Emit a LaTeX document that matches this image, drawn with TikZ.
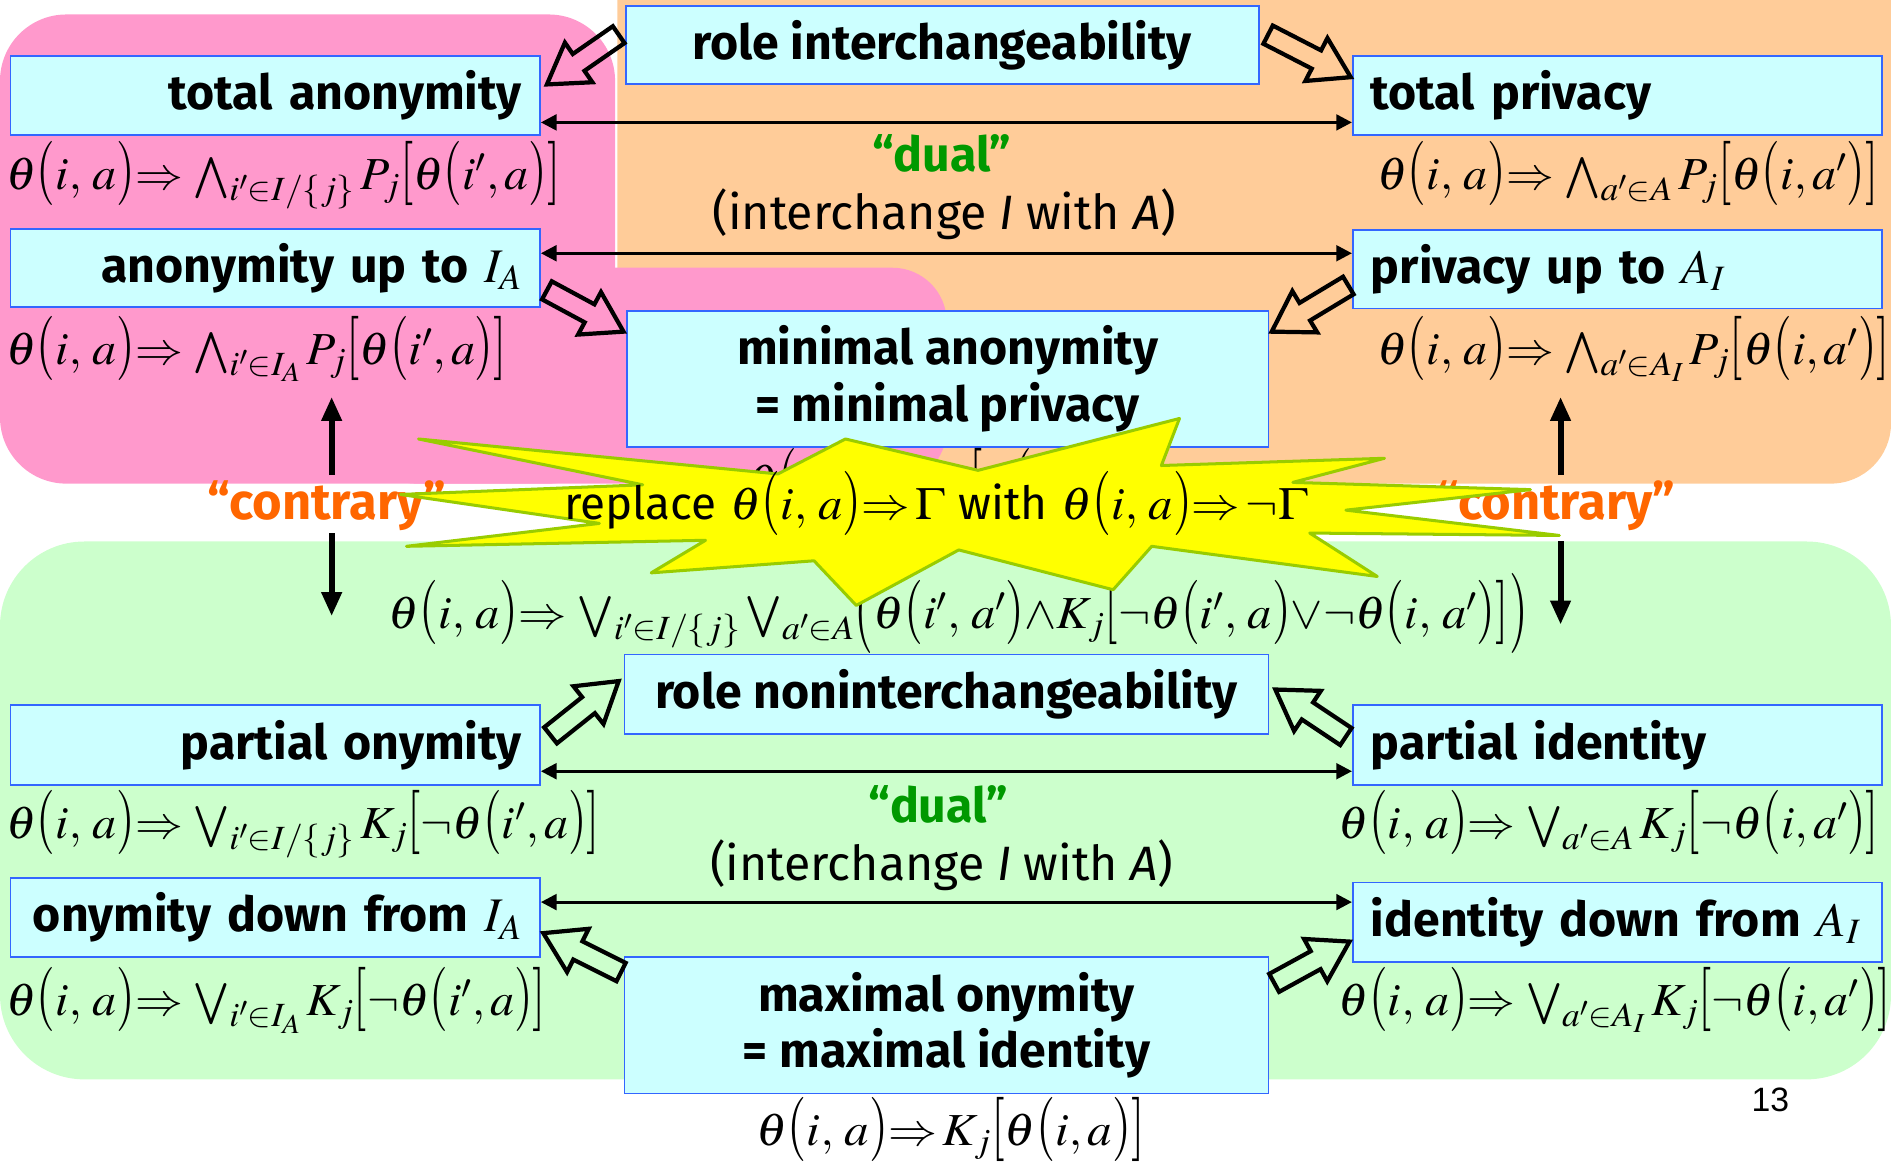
\documentclass[tikz,border=0pt]{standalone}
\usepackage{mathptmx}
\usepackage{graphicx}
\usepackage[no-math]{fontspec}
\usetikzlibrary{calc,arrows.meta}
\newfontfamily\cfont{Fira Sans}
\newfontfamily\numfont{Liberation Sans}
\definecolor{pinkbg}{HTML}{FF99CC}
\definecolor{orangebg}{HTML}{FFCC99}
\definecolor{greenbg}{HTML}{CCFFCC}
\definecolor{boxfill}{HTML}{CCFFFF}
\definecolor{boxline}{HTML}{3366FF}
\definecolor{dualgreen}{HTML}{009900}
\definecolor{contraorange}{HTML}{FF6600}
\definecolor{staryellow}{HTML}{FFFF00}
\definecolor{starline}{HTML}{99CC00}
\newcommand\LP{\mathopen{\scalebox{1}[1.4]{$($}}}
\newcommand\RP{\mathclose{\scalebox{1}[1.4]{$)$}}}
\newcommand\LB{\mathopen{\scalebox{1}[1.4]{$[$}}}
\newcommand\RB{\mathclose{\scalebox{1}[1.4]{$]$}}}
\newcommand\LLP{\mathopen{\raisebox{-0.12em}{\scalebox{1}[1.75]{$($}}}}
\newcommand\RRP{\mathclose{\raisebox{-0.12em}{\scalebox{1}[1.75]{$)$}}}}
\newcommand\thia{\theta\LP i,\,a\RP}
\newcommand\imp{{\Rightarrow}\,}
\newcommand\fml[2][1.045]{\scalebox{#1}[1]{$#2$}}
\newcommand\blockarrow[2]{%
  \coordinate (bA) at (#1);
  \coordinate (bB) at (#2);
  \coordinate (bP) at ($(bB)!32pt!(bA)$);
  \draw[blockarr] ($(bA)!8.5pt!90:(bB)$) -- ($(bP)!8.5pt!90:(bB)$) -- ($(bP)!20pt!90:(bB)$)
    -- (bB) -- ($(bP)!20pt!-90:(bB)$) -- ($(bP)!8.5pt!-90:(bB)$) -- ($(bA)!8.5pt!-90:(bB)$) -- cycle;
}
\tikzset{
  boxnode/.style={draw=boxline, fill=boxfill, line width=1.5pt, inner sep=0pt, anchor=north west,
    font=\cfont\bfseries\fontsize{40}{47}\selectfont},
  leftbox/.style={boxnode, minimum height=65pt, text width=409pt, inner xsep=15pt, align=right},
  rightbox/.style={boxnode, minimum height=65pt, text width=409pt, inner xsep=15pt, align=left},
  midbox/.style={boxnode, align=center},
  formula/.style={anchor=base west, inner sep=0pt, font=\fontsize{38}{46}\selectfont},
  duallab/.style={anchor=base, inner sep=0pt, text=dualgreen, font=\cfont\bfseries\fontsize{40}{48}\selectfont},
  swaplab/.style={anchor=base, inner sep=0pt, font=\cfont\fontsize{40}{48}\selectfont},
  contralab/.style={anchor=base, inner sep=0pt, text=contraorange, font=\cfont\bfseries\fontsize{42}{48}\selectfont},
  dblarr/.style={line width=2.5pt, {Triangle[width=13pt,length=13pt]}-{Triangle[width=13pt,length=13pt]}},
  varr/.style={line width=5pt, -{Triangle[width=16pt,length=20pt]}},
  blockarr/.style={draw=black, line width=3.5pt, line join=miter},
  starshape/.style={fill=staryellow, draw=starline, line width=2.5pt, line join=round}
}
\begin{document}
\begin{tikzpicture}[x=1pt,y=-1pt]
\useasboundingbox (0,0) rectangle (1568,968);
\clip (0,0) rectangle (1568,968);
% backgrounds
\fill[orangebg, rounded corners=50] (512,-80) rectangle (1568,401);
\fill[pinkbg, rounded corners=55] (0,12) rectangle (510,401);
\fill[pinkbg, rounded corners=45] (300,222) rectangle (785,401);
\fill[greenbg, rounded corners=70] (0,449) rectangle (1568,895);

% boxes
\node[midbox, minimum width=525pt, minimum height=65pt] (ri) at (518,4) {role interchangeability};
\node[leftbox] (ta) at (8,46) {total anonymity};
\node[rightbox] (tp) at (1121,46) {total privacy};
\node[leftbox] (au) at (8,189) {anonymity up to $I_A$};
\node[rightbox] (pu) at (1121,190) {privacy up to $A_I$};
\node[midbox, minimum width=532pt, minimum height=113pt] (mn) at (519,257) {minimal anonymity\\= minimal privacy};
\node[midbox, minimum width=534pt, minimum height=66pt] (rn) at (517,542) {role noninterchangeability};
\node[leftbox, minimum height=66pt] (po) at (8,584) {partial onymity};
\node[rightbox, minimum height=66pt] (pi) at (1121,584) {partial identity};
\node[leftbox, minimum height=66pt] (od) at (8,727) {\mbox{onymity down from $I_A$}};
\node[rightbox, minimum height=66pt] (id) at (1121,731) {\mbox{identity down from $A_I$}};
\node[midbox, minimum width=534pt, minimum height=113pt] (mx) at (517,793) {maximal onymity\\= maximal identity};

% dual arrows
\draw[dblarr] ($(ta.south east)+(0,-11)$) -- ($(tp.south west)+(0,-11)$);
\draw[dblarr] ($(au.north east)+(0,21)$) -- ($(pu.north west)+(0,20)$);
\draw[dblarr] ($(po.south east)+(0,-12)$) -- ($(pi.south west)+(0,-12)$);
\draw[dblarr] ($(od.north east)+(0,21)$) -- ($(id.north west)+(0,17)$);

% dual labels
\node[duallab] (d1) at (781,142) {“dual”};
\node[swaplab] (s1) at (783,190) {(interchange \textit{I} with \textit{A})};
\node[duallab] (d2) at (778,682) {“dual”};
\node[swaplab] (s2) at (781,730) {(interchange \textit{I} with \textit{A})};

% formulas
\node[formula] (fta) at (5,157) {\fml{\thia\imp\bigwedge\nolimits_{i'\in I/\{j\}}P_j\LB\theta\LP i',a\RP\RB}};
\node[formula] (ftp) at (1142,157) {\fml{\thia\imp\bigwedge\nolimits_{a'\in A}P_j\LB\theta\LP i,a'\RP\RB}};
\node[formula] (fau) at (5,302) {\fml{\thia\imp\bigwedge\nolimits_{i'\in I_A}P_j\LB\theta\LP i',a\RP\RB}};
\node[formula] (fpu) at (1142,302) {\fml{\thia\imp\bigwedge\nolimits_{a'\in A_I}P_j\LB\theta\LP i,a'\RP\RB}};
\node[formula] (fmn) at (620,412) {\fml{\thia\imp P_j\LB\theta\LP i,a\RP\RB}};
\node[formula] (fc) at (322,521) {\fml[1.055]{\thia\imp\bigvee\nolimits_{i'\in I/\{j\}}\bigvee\nolimits_{a'\in A}\LLP\theta\LP i',\,a'\RP{\wedge}K_j\LB\neg\theta\LP i',\,a\RP{\vee}\neg\theta\LP i,\,a'\RP\RB\RRP}};
\node[formula] (fpo) at (5,695) {\fml{\thia\imp\bigvee\nolimits_{i'\in I/\{j\}}K_j\LB\neg\theta\LP i',a\RP\RB}};
\node[formula] (fpi) at (1110,695) {\fml{\thia\imp\bigvee\nolimits_{a'\in A}K_j\LB\neg\theta\LP i,a'\RP\RB}};
\node[formula] (fod) at (5,842) {\fml{\thia\imp\bigvee\nolimits_{i'\in I_A}K_j\LB\neg\theta\LP i',a\RP\RB}};
\node[formula] (fid) at (1110,842) {\fml{\thia\imp\bigvee\nolimits_{a'\in A_I}K_j\LB\neg\theta\LP i,a'\RP\RB}};
\node[formula] (fmx) at (627,950) {\fml[1.07]{\thia\imp K_j\LB\theta\LP i,a\RP\RB}};

% block arrows
\coordinate (b1s) at ($(ri.west)+(-5,-8.5)$);  \coordinate (b1e) at ($(ta.north east)+(5,24)$);
\coordinate (b2s) at ($(ri.east)+(7,-8.5)$);   \coordinate (b2e) at ($(tp.north west)+(-1,18)$);
\coordinate (b3s) at ($(au.east)+(5,18.5)$);   \coordinate (b3e) at ($(mn.north west)+(-2,18)$);
\coordinate (b4s) at ($(pu.west)+(-3,13.5)$);  \coordinate (b4e) at ($(mn.north east)+(2,18)$);
\coordinate (b5s) at ($(po.east)+(8,-8)$);     \coordinate (b5e) at ($(rn.west)+(-4,-11)$);
\coordinate (b6s) at ($(pi.west)+(-5,-7)$);    \coordinate (b6e) at ($(rn.east)+(5,-4)$);
\coordinate (b7s) at ($(mx.north west)+(-2,13)$); \coordinate (b7e) at ($(od.east)+(2,13)$);
\coordinate (b8s) at ($(mx.north east)+(4,22)$);  \coordinate (b8e) at ($(id.west)+(-2,16)$);
\blockarrow{b1s}{b1e}
\blockarrow{b2s}{b2e}
\blockarrow{b3s}{b3e}
\blockarrow{b4s}{b4e}
\blockarrow{b5s}{b5e}
\blockarrow{b6s}{b6e}
\blockarrow{b7s}{b7e}
\blockarrow{b8s}{b8e}

% contrary
\node[contralab] (cl) at (271,431) {“contrary”};
\node[contralab] (cr) at (1290,431) {“contrary”};
\coordinate (cl1) at (275,394); \coordinate (cl2) at (275,329);
\coordinate (cl3) at (275,442); \coordinate (cl4) at (275,511);
\coordinate (cr1) at (1294,394); \coordinate (cr2) at (1294,329);
\coordinate (cr3) at (1294,449); \coordinate (cr4) at (1294,518);
\draw[varr] (cl1) -- (cl2);
\draw[varr] (cl3) -- (cl4);
\draw[varr] (cr1) -- (cr2);
\draw[varr] (cr3) -- (cr4);

% starburst
\filldraw[starshape] (710,502) -- (675,465) -- (540,475) -- (585,448) -- (337,453) -- (497,434)
  -- (332,410) -- (533,402) -- (347,364) -- (645,393) -- (701,364) -- (811,390) -- (978,347)
  -- (963,386) -- (1148,380) -- (1072,400) -- (1269,406) -- (1116,423) -- (1293,444)
  -- (1086,442) -- (1142,478) -- (955,453) -- (923,489) -- (795,456) -- cycle;
\node[anchor=base, inner sep=0pt, font=\fontsize{38}{46}\selectfont] (st) at (776,431)
  {{\cfont replace} \fml[1.06]{\thia\imp\Gamma} {\cfont with} \fml[1.06]{\thia\imp\neg\Gamma}};

% page number
\node[anchor=base, inner sep=0pt, font=\numfont\fontsize{28}{34}\selectfont] (pg) at (1468,922) {13};
\end{tikzpicture}
\end{document}
